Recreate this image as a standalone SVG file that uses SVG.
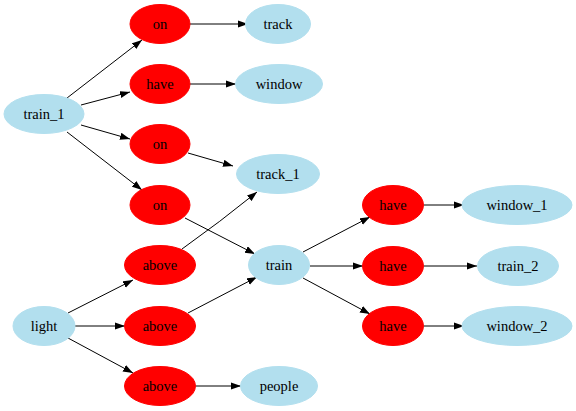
<svg xmlns="http://www.w3.org/2000/svg" width="576" height="411" viewBox="0 0 576 411">
<style>
.b{fill:#b2dfee;stroke:#b2dfee}
.r{fill:#ff0000;stroke:#ff0000}
text{fill:#000;text-anchor:middle;font-family:'Liberation Serif','DejaVu Serif','Times New Roman',serif;font-size:14.5px}
.e path{fill:none;stroke:#000;stroke-width:1;marker-end:url(#ah)}
</style>
<defs>
<marker id="ah" markerWidth="10" markerHeight="8" refX="10" refY="3.6" orient="auto" markerUnits="userSpaceOnUse">
<polygon points="0,0 10,3.6 0,7.2" fill="#000"/>
</marker>
</defs>
<g class="e" id="edges">
<path d="M67,98 L142,40"/>
<path d="M81,105 L130,92"/>
<path d="M81,125 L130,139"/>
<path d="M67,132 L142,190"/>
<path d="M190,24 L248,24"/>
<path d="M190,84 L236,84"/>
<path d="M188,153 L233,166"/>
<path d="M185,218 L255,254"/>
<path d="M182,249 Q220,222 257,192"/>
<path d="M68,313 L133,280"/>
<path d="M75,326 L125,326"/>
<path d="M68,338 L133,373"/>
<path d="M188,313 L257,277"/>
<path d="M196,386 L241,386"/>
<path d="M303,252 L370,217"/>
<path d="M310,266 L363,266"/>
<path d="M303,278 L370,314"/>
<path d="M424,205 L464,205"/>
<path d="M424,266 L477,266"/>
<path d="M424,326 L464,326"/>
</g>
<g id="train_1"><ellipse class="b" cx="44" cy="114" rx="40" ry="19.5"/><text x="44" y="119">train_1</text></g>
<g id="on1"><ellipse class="r" cx="160" cy="24" rx="30" ry="19.5"/><text x="160" y="29">on</text></g>
<g id="have1"><ellipse class="r" cx="160" cy="84" rx="30" ry="19.5"/><text x="160" y="89">have</text></g>
<g id="on2"><ellipse class="r" cx="160" cy="144" rx="30" ry="19.5"/><text x="160" y="149">on</text></g>
<g id="on3"><ellipse class="r" cx="160" cy="205" rx="30" ry="19.5"/><text x="160" y="210">on</text></g>
<g id="above1"><ellipse class="r" cx="160" cy="265" rx="35.5" ry="19.5"/><text x="160" y="270">above</text></g>
<g id="above2"><ellipse class="r" cx="160" cy="326" rx="35.5" ry="19.5"/><text x="160" y="331">above</text></g>
<g id="above3"><ellipse class="r" cx="160" cy="386" rx="35.5" ry="19.5"/><text x="160" y="391">above</text></g>
<g id="light"><ellipse class="b" cx="44" cy="326" rx="31" ry="19.5"/><text x="44" y="331">light</text></g>
<g id="track"><ellipse class="b" cx="278" cy="24" rx="32.5" ry="19.5"/><text x="278" y="29">track</text></g>
<g id="window"><ellipse class="b" cx="279" cy="84" rx="43.5" ry="19.5"/><text x="279" y="89">window</text></g>
<g id="track_1"><ellipse class="b" cx="278" cy="174" rx="41.5" ry="19.5"/><text x="278" y="179">track_1</text></g>
<g id="train"><ellipse class="b" cx="279" cy="265" rx="30.5" ry="19.5"/><text x="279" y="270">train</text></g>
<g id="people"><ellipse class="b" cx="279" cy="386" rx="38.5" ry="19.5"/><text x="279" y="391">people</text></g>
<g id="have2"><ellipse class="r" cx="393" cy="205" rx="30.5" ry="19.5"/><text x="393" y="210">have</text></g>
<g id="have3"><ellipse class="r" cx="393" cy="266" rx="30.5" ry="19.5"/><text x="393" y="271">have</text></g>
<g id="have4"><ellipse class="r" cx="393" cy="326" rx="30.5" ry="19.5"/><text x="393" y="331">have</text></g>
<g id="window_1"><ellipse class="b" cx="517" cy="205" rx="55" ry="19.5"/><text x="517" y="210">window_1</text></g>
<g id="train_2"><ellipse class="b" cx="518" cy="266" rx="40.5" ry="19.5"/><text x="518" y="271">train_2</text></g>
<g id="window_2"><ellipse class="b" cx="517" cy="326" rx="55" ry="19.5"/><text x="517" y="331">window_2</text></g>
</svg>
